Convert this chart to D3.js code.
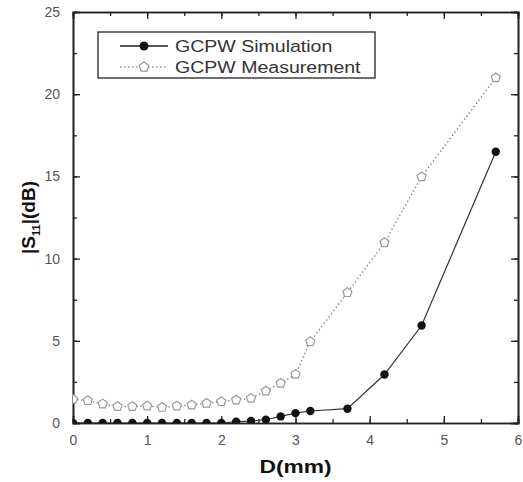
<!DOCTYPE html>
<html>
<head>
<meta charset="utf-8">
<script src="https://cdn.jsdelivr.net/npm/d3@7"></script>
<style>
  body { margin: 0; background: #fff; }
  text { font-family: "Liberation Sans", Arial, sans-serif; }
</style>
</head>
<body>
<div id="chart"></div>
<script>
// D(mm) positions and |S11| values
const simX = [0, 0.2, 0.4, 0.6, 0.8, 1.0, 1.2, 1.4, 1.6, 1.8, 2.0, 2.2, 2.4, 2.6, 2.8, 3.0, 3.2, 3.7, 4.2, 4.7, 5.7];
const simY = [0, 0, 0, 0, 0, 0, 0, 0, 0, 0, 0, 0.08, 0.12, 0.2, 0.4, 0.6, 0.73, 0.87, 2.95, 5.93, 16.5];
const measX = [0, 0.2, 0.4, 0.6, 0.8, 1.0, 1.2, 1.4, 1.6, 1.8, 2.0, 2.2, 2.4, 2.6, 2.8, 3.0, 3.2, 3.7, 4.2, 4.7, 5.7];
const measY = [1.44, 1.36, 1.16, 1.0, 1.0, 1.03, 0.95, 1.03, 1.09, 1.2, 1.3, 1.4, 1.5, 1.95, 2.42, 2.96, 4.95, 7.93, 10.97, 14.98, 21.0];
const xTicks = [0, 1, 2, 3, 4, 5, 6];
const yTicks = [0, 5, 10, 15, 20, 25];
const seriesNames = ["GCPW Simulation", "GCPW Measurement"];

const width = 523;
const height = 482;
const margin = {top: 12, right: 5, bottom: 59, left: 73};

const svg = d3.select("#chart")
              .append("svg")
              .attr("width", width)
              .attr("height", height);

const x = d3.scaleLinear().domain([0, 6]).range([margin.left, width - margin.right]);
const y = d3.scaleLinear().domain([0, 25]).range([height - margin.bottom, margin.top]);

const x0 = x(0), x1 = x(6), y0 = y(0), y1 = y(25);

// clip so markers sitting on zero get cut by the axis
svg.append("clipPath")
   .attr("id", "clip")
   .append("rect")
   .attr("x", x0)
   .attr("y", y1)
   .attr("width", x1 - x0)
   .attr("height", y0 - y1);

// axes with inward ticks, mirrored on top and right
const minorX = d3.range(0, 6.01, 0.5);
const minorY = d3.range(0, 25.01, 2.5);

svg.append("g")
   .attr("transform", `translate(0,${y0})`)
   .call(d3.axisBottom(x).tickValues(minorX).tickSize(-4).tickFormat(""));
svg.append("g")
   .attr("transform", `translate(0,${y0})`)
   .call(d3.axisBottom(x).tickValues(xTicks).tickSize(-7).tickPadding(12).tickFormat(d3.format("d")))
   .call(g => g.selectAll("text").attr("font-size", 14).attr("fill", "#555"));
svg.append("g")
   .attr("transform", `translate(0,${y1})`)
   .call(d3.axisTop(x).tickValues(minorX).tickSize(-4).tickFormat(""));
svg.append("g")
   .attr("transform", `translate(0,${y1})`)
   .call(d3.axisTop(x).tickValues(xTicks).tickSize(-7).tickFormat(""));

svg.append("g")
   .attr("transform", `translate(${x0},0)`)
   .call(d3.axisLeft(y).tickValues(minorY).tickSize(-4).tickFormat(""));
svg.append("g")
   .attr("transform", `translate(${x0},0)`)
   .call(d3.axisLeft(y).tickValues(yTicks).tickSize(-7).tickPadding(13).tickFormat(d3.format("d")))
   .call(g => g.selectAll("text").attr("font-size", 14).attr("fill", "#555"));
svg.append("g")
   .attr("transform", `translate(${x1},0)`)
   .call(d3.axisRight(y).tickValues(minorY).tickSize(-4).tickFormat(""));
svg.append("g")
   .attr("transform", `translate(${x1},0)`)
   .call(d3.axisRight(y).tickValues(yTicks).tickSize(-7).tickFormat(""));

svg.selectAll(".domain").attr("stroke", "#222").attr("stroke-width", 1.6);
svg.selectAll(".tick line").attr("stroke", "#222").attr("stroke-width", 1.3);

const sim = simX.map((d, i) => [d, simY[i]]);
const meas = measX.map((d, i) => [d, measY[i]]);

const line = d3.line().x(d => x(d[0])).y(d => y(d[1]));

const plot = svg.append("g").attr("clip-path", "url(#clip)");

plot.append("path")
    .datum(meas)
    .attr("d", line)
    .attr("fill", "none")
    .attr("stroke", "#888")
    .attr("stroke-width", 1.4)
    .attr("stroke-dasharray", "1.5,2.5");

plot.append("path")
    .datum(sim)
    .attr("d", line)
    .attr("fill", "none")
    .attr("stroke", "#333")
    .attr("stroke-width", 1.2);

const pent = (cx, cy, r) => d3.range(5).map(k => {
  const a = -Math.PI / 2 + k * 2 * Math.PI / 5;
  return [cx + r * Math.cos(a), cy + r * Math.sin(a)];
});

plot.selectAll(".meas")
    .data(meas)
    .enter()
    .append("polygon")
    .attr("class", "meas")
    .attr("points", d => pent(x(d[0]), y(d[1]), 4.8).join(" "))
    .attr("fill", "#fff")
    .attr("stroke", "#999")
    .attr("stroke-width", 1.2);

plot.selectAll(".sim")
    .data(sim)
    .enter()
    .append("circle")
    .attr("class", "sim")
    .attr("cx", d => x(d[0]))
    .attr("cy", d => y(d[1]))
    .attr("r", 4.2)
    .attr("fill", "#111");

// legend
const legend = svg.append("g");
legend.append("rect")
      .attr("x", 98).attr("y", 32)
      .attr("width", 277).attr("height", 46)
      .attr("fill", "#fff")
      .attr("stroke", "#333")
      .attr("stroke-width", 1.4);

const rows = legend.selectAll(".row")
                   .data(seriesNames)
                   .enter()
                   .append("g")
                   .attr("transform", (d, i) => `translate(0,${46 + i * 21})`);

rows.append("line")
    .attr("x1", 120).attr("x2", 168)
    .attr("stroke", (d, i) => i ? "#999" : "#222")
    .attr("stroke-width", 1.4)
    .attr("stroke-dasharray", (d, i) => i ? "1.5,2.5" : null);

rows.filter((d, i) => i === 0)
    .append("circle")
    .attr("cx", 144).attr("r", 4.5).attr("fill", "#111");
rows.filter((d, i) => i === 1)
    .append("polygon")
    .attr("points", pent(144, 0, 5).join(" "))
    .attr("fill", "#fff").attr("stroke", "#999").attr("stroke-width", 1.2);

// the source figure is stretched horizontally, so widen the text a bit
rows.append("text")
    .attr("transform", "translate(175,0) scale(1.15,1)")
    .attr("dy", "0.36em")
    .attr("font-size", 17)
    .attr("fill", "#333")
    .text(d => d);

// axis titles
svg.append("text")
   .attr("transform", `translate(${(x0 + x1) / 2},473) scale(1.2,1)`)
   .attr("text-anchor", "middle")
   .attr("font-size", 19)
   .attr("font-weight", "bold")
   .attr("fill", "#111")
   .text("D(mm)");

const ylab = svg.append("text")
   .attr("transform", `translate(35,${(y0 + y1) / 2}) rotate(-90)`)
   .attr("text-anchor", "middle")
   .attr("font-size", 19)
   .attr("font-weight", "bold")
   .attr("fill", "#111");
ylab.append("tspan").text("|S");
ylab.append("tspan").attr("font-size", 11).attr("dy", 5).text("11");
ylab.append("tspan").attr("dy", -5).text("|(dB)");
</script>
</body>
</html>
